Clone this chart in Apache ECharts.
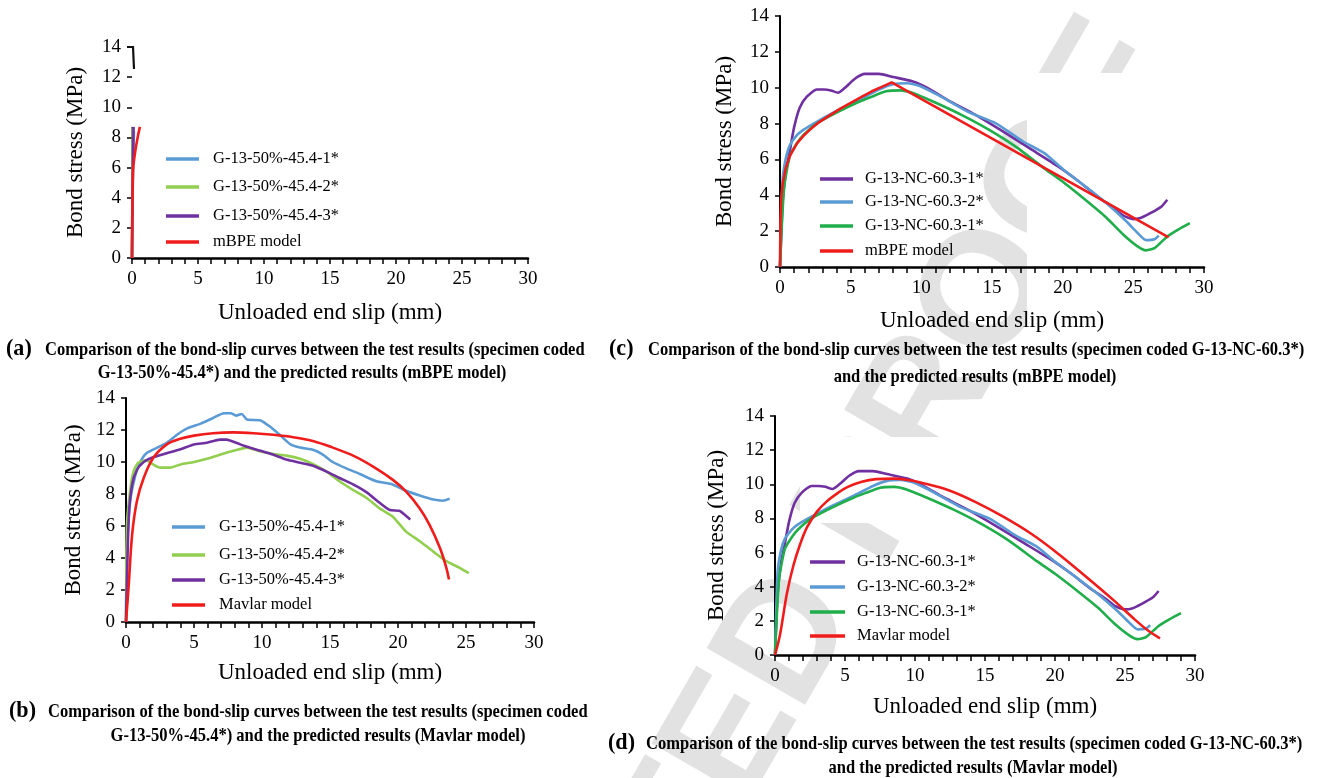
<!DOCTYPE html>
<html>
<head>
<meta charset="utf-8">
<script src="https://cdn.jsdelivr.net/npm/echarts/dist/echarts.min.js"></script>
<style>
  html, body { margin: 0; padding: 0; background: #fff; }
  #chart { width: 1319px; height: 778px; }
</style>
</head>
<body>
<div id="chart"></div>
<script>
// ---------- axis extents ----------
const slipMin = 0, slipMax = 30, slipStep = 1, slipLabelStep = 5;
const stressMin = 0, stressMax = 14, stressStep = 2;

// ---------- series names ----------
const namesA = ['G-13-50%-45.4-1*', 'G-13-50%-45.4-2*', 'G-13-50%-45.4-3*', 'mBPE model'];
const namesB = ['G-13-50%-45.4-1*', 'G-13-50%-45.4-2*', 'G-13-50%-45.4-3*', 'Mavlar model'];
const namesC = ['G-13-NC-60.3-1*', 'G-13-NC-60.3-2*', 'G-13-NC-60.3-1*', 'mBPE model'];
const namesD = ['G-13-NC-60.3-1*', 'G-13-NC-60.3-2*', 'G-13-NC-60.3-1*', 'Mavlar model'];

// ---------- (a) G-13-50%-45.4 vs mBPE (slip mm, stress MPa) ----------
const a_spec1 = [[0,0],[0.05,4.0],[0.1,7.0],[0.15,8.4]];
const a_spec2 = [[0,0],[0.04,5.5],[0.08,8.6]];
const a_spec3 = [[0,0],[0.06,6.0],[0.12,8.7]];
const a_mbpe  = [[0,0],[0.08,5.8],[0.25,7.1],[0.45,8.1],[0.6,8.7]];

// ---------- (b) G-13-50%-45.4 vs Mavlar ----------
const b_spec1 = [[0,0],[0.07,4.4],[0.3,7.5],[0.7,9.2],[1.05,10.0],[1.5,10.55],[2.3,10.9],[3.0,11.2],[3.75,11.7],[4.5,12.1],[5.5,12.4],[6.4,12.75],[7.2,13.05],[7.7,13.05],[8.1,12.9],[8.5,13.0],[8.9,12.65],[9.9,12.6],[10.6,12.2],[11.3,11.7],[12.1,11.1],[12.8,10.9],[13.8,10.75],[14.5,10.45],[15.2,10.0],[16.2,9.6],[17.2,9.25],[18.4,8.8],[19.6,8.6],[20.6,8.2],[21.6,7.9],[22.6,7.65],[23.3,7.58],[23.8,7.7]];
const b_spec2 = [[0,0],[0.07,6.1],[0.3,8.2],[0.55,9.4],[0.9,9.95],[1.5,10.1],[2.0,9.85],[2.5,9.65],[3.25,9.65],[4.0,9.85],[5.0,10.0],[5.95,10.2],[6.9,10.45],[7.9,10.7],[8.9,10.9],[9.9,10.65],[10.85,10.5],[11.8,10.4],[12.8,10.2],[13.8,9.85],[14.75,9.4],[15.7,8.8],[16.7,8.25],[17.7,7.75],[18.65,7.1],[19.6,6.6],[20.6,5.65],[21.6,5.05],[22.6,4.4],[23.55,3.8],[24.5,3.4],[25.2,3.05]];
const b_spec3 = [[0,0],[0.2,6.5],[0.45,8.6],[0.8,9.5],[1.3,10.0],[2.0,10.3],[3.0,10.55],[4.0,10.8],[5.0,11.1],[5.95,11.2],[6.9,11.4],[7.4,11.4],[8.1,11.2],[8.9,10.95],[9.9,10.7],[10.85,10.45],[11.8,10.15],[12.8,9.95],[13.8,9.75],[14.75,9.4],[15.7,9.0],[16.7,8.6],[17.7,8.1],[18.65,7.45],[19.4,7.0],[20.1,6.95],[20.5,6.7],[20.9,6.4]];
const b_mavlar = [[0,0],[0.2,2.3],[0.45,5.45],[0.8,7.55],[1.3,9.0],[2.0,10.25],[3.0,11.1],[4.0,11.45],[5.0,11.65],[6.4,11.8],[7.9,11.85],[9.4,11.8],[10.85,11.7],[12.3,11.55],[13.8,11.3],[15.2,10.9],[16.7,10.4],[18.2,9.7],[19.6,8.9],[20.6,8.15],[21.6,7.1],[22.3,6.1],[23.1,4.6],[23.55,3.4],[23.75,2.65]];

// ---------- (c)/(d) G-13-NC-60.3 test curves ----------
const nc_spec1 = [[0,0],[0.1,2.0],[0.2,3.75],[0.45,5.5],[0.7,6.5],[1.0,7.8],[1.4,8.9],[1.9,9.5],[2.6,9.9],[3.1,9.9],[3.6,9.85],[4.1,9.72],[4.6,10.0],[5.3,10.5],[6.0,10.77],[7.0,10.77],[8.0,10.6],[9.4,10.35],[10.4,10.0],[11.9,9.3],[13.8,8.5],[15.8,7.55],[17.7,6.6],[19.7,5.6],[21.1,4.8],[22.6,3.85],[23.6,3.3],[24.3,2.86],[25.0,2.67],[25.5,2.73],[26.2,3.0],[27.0,3.38],[27.4,3.75]];
const nc_spec2 = [[0,0],[0.1,3.0],[0.2,5.0],[0.45,6.2],[0.7,6.8],[1.2,7.35],[1.65,7.65],[2.6,8.1],[4.1,8.75],[5.55,9.3],[7.0,9.9],[8.0,10.2],[9.0,10.25],[9.9,10.1],[11.4,9.5],[13.3,8.65],[15.3,8.0],[17.2,7.0],[18.7,6.35],[20.1,5.4],[21.6,4.5],[23.1,3.55],[24.5,2.55],[25.3,1.9],[25.9,1.5],[26.5,1.55],[26.8,1.75]];
const nc_spec3 = [[0,0],[0.1,1.9],[0.3,4.5],[0.7,6.2],[1.2,6.9],[1.65,7.35],[2.6,8.0],[4.1,8.65],[5.55,9.2],[6.5,9.5],[7.5,9.8],[8.5,9.85],[9.4,9.7],[10.9,9.2],[12.8,8.5],[14.8,7.65],[16.7,6.7],[18.7,5.5],[20.1,4.7],[21.6,3.75],[23.1,2.75],[24.3,1.8],[25.3,1.15],[25.9,0.93],[26.5,1.05],[27.4,1.7],[28.2,2.1],[29.0,2.45]];
const c_mbpe = [[0,0],[0.03,2.5],[0.08,3.8],[0.2,4.7],[0.4,5.5],[0.7,6.2],[1.2,6.9],[1.7,7.35],[2.1,7.65],[2.8,8.1],[3.6,8.5],[4.3,8.85],[5.1,9.2],[5.8,9.5],[6.5,9.8],[7.2,10.05],[7.9,10.3],[27.5,1.65]];
const d_mavlar = [[0,0],[0.36,1.2],[0.85,3.6],[1.3,5.2],[1.8,6.5],[2.3,7.5],[3.0,8.4],[3.7,9.0],[4.5,9.5],[5.2,9.85],[6.2,10.15],[7.2,10.3],[8.5,10.33],[9.5,10.25],[10.4,10.1],[12.4,9.65],[14.3,8.97],[16.3,8.1],[18.3,7.1],[20.2,5.95],[22.2,4.6],[24.2,3.2],[25.6,2.15],[26.6,1.46],[27.5,0.97]];

// ---------- captions ----------
const capLine1AB = 'Comparison of the bond-slip curves between the test results (specimen coded';
const capLine1CD = 'Comparison of the bond-slip curves between the test results (specimen coded G-13-NC-60.3*)';
const capLine2 = {
  a: 'G-13-50%-45.4*) and the predicted results (mBPE model)',
  b: 'G-13-50%-45.4*) and the predicted results (Mavlar model)',
  c: 'and the predicted results (mBPE model)',
  d: 'and the predicted results (Mavlar model)'
};
const stampText = 'UNCORRECTED PROOF';

// ---------- styling ----------
const SERIF = '"Liberation Serif", "Times New Roman", serif';
const COL = {
  blue: '#5b9bd5', lime: '#92cf4f', purple: '#7030a0', red: '#f01c1c', green: '#1fae4a'
};

// panel layout: plot rectangles and label spacing
const panels = [
  { key: 'a', left: 132, top: 47,  width: 396, height: 211, xGap: 43, yGap: 45, hideY: true },
  { key: 'b', left: 126, top: 398, width: 408, height: 224, xGap: 39, yGap: 41 },
  { key: 'c', left: 780, top: 16,  width: 424, height: 251, xGap: 42, yGap: 44 },
  { key: 'd', left: 775, top: 416, width: 420, height: 239, xGap: 40, yGap: 47 }
];

const grids = panels.map(p => ({
  left: p.left, top: p.top, width: p.width, height: p.height,
  containLabel: false, outerBoundsMode: 'none'
}));

const xAxes = panels.map((p, i) => ({
  gridIndex: i, type: 'value', min: slipMin, max: slipMax, interval: slipStep,
  name: 'Unloaded end slip (mm)', nameLocation: 'middle', nameGap: p.xGap,
  nameTextStyle: { fontFamily: SERIF, fontSize: 23, color: '#000', verticalAlign: 'top' },
  axisLine: { show: true, onZero: false, lineStyle: { color: '#000', width: 2.5 } },
  axisTick: { show: true, length: 6, lineStyle: { color: '#000', width: 1.5 } },
  axisLabel: {
    fontFamily: SERIF, fontSize: 19, color: '#000', margin: 12,
    formatter: v => (v % slipLabelStep === 0 ? String(v) : '')
  },
  splitLine: { show: false }
}));

const yAxes = panels.map((p, i) => ({
  gridIndex: i, type: 'value', min: stressMin, max: stressMax, interval: stressStep,
  name: 'Bond stress (MPa)', nameLocation: 'middle', nameGap: p.yGap, nameRotate: 90,
  nameTextStyle: { fontFamily: SERIF, fontSize: 23, color: '#000' },
  axisLine: { show: !p.hideY, onZero: false, lineStyle: { color: '#000', width: 2 } },
  axisTick: { show: true, length: 5, lineStyle: { color: '#000', width: 1.5 } },
  axisLabel: { fontFamily: SERIF, fontSize: 19, color: '#000', margin: 11 },
  splitLine: { show: false }
}));

function curve(name, data, color, gi, smooth) {
  return {
    type: 'line', name, data, xAxisIndex: gi, yAxisIndex: gi,
    symbol: 'none', showSymbol: false, smooth: smooth, silent: true,
    lineStyle: { color, width: 2.6 }, itemStyle: { color },
    z: 3
  };
}

const series = [
  curve(namesA[0], a_spec1, COL.blue, 0, 0.2),
  curve(namesA[1], a_spec2, COL.lime, 0, 0.2),
  curve(namesA[2], a_spec3, COL.purple, 0, 0.2),
  curve(namesA[3], a_mbpe, COL.red, 0, 0.3),

  curve(namesB[0], b_spec1, COL.blue, 1, 0.2),
  curve(namesB[1], b_spec2, COL.lime, 1, 0.2),
  curve(namesB[2], b_spec3, COL.purple, 1, 0.2),
  curve(namesB[3], b_mavlar, COL.red, 1, 0.35),

  curve(namesC[0], nc_spec1, COL.purple, 2, 0.2),
  curve(namesC[1], nc_spec2, COL.blue, 2, 0.2),
  curve(namesC[2], nc_spec3, COL.green, 2, 0.2),
  curve(namesC[3], c_mbpe, COL.red, 2, false),

  curve(namesD[0], nc_spec1, COL.purple, 3, 0.2),
  curve(namesD[1], nc_spec2, COL.blue, 3, 0.2),
  curve(namesD[2], nc_spec3, COL.green, 3, 0.2),
  curve(namesD[3], d_mavlar, COL.red, 3, 0.35)
];

// ---------- keys drawn beside each plot ----------
const keyBoxes = [
  { names: namesA, colors: [COL.blue, COL.lime, COL.purple, COL.red], x1: 166, x2: 199, tx: 213, ys: [159, 187, 216, 242] },
  { names: namesB, colors: [COL.blue, COL.lime, COL.purple, COL.red], x1: 172, x2: 205, tx: 219, ys: [527, 555, 580, 605] },
  { names: namesC, colors: [COL.purple, COL.blue, COL.green, COL.red], x1: 820, x2: 853, tx: 865, ys: [179, 202, 226, 251] },
  { names: namesD, colors: [COL.purple, COL.blue, COL.green, COL.red], x1: 810, x2: 845, tx: 857, ys: [562, 587, 612, 636] }
];

const graphics = [];

// faint diagonal stamp, partly masked by the white plot patches
graphics.push({
  type: 'text', x: 657, y: 870, rotation: 60 * Math.PI / 180, z: -6, silent: true,
  style: {
    text: stampText, font: 'bold 165px "Liberation Sans", Arial, sans-serif',
    fill: '#e2e2e2', align: 'center', verticalAlign: 'middle',
    textAlign: 'center', textVerticalAlign: 'middle'
  }
});
graphics.push({
  type: 'rect', z: -5, silent: true,
  shape: { x: 1027, y: 73, width: 292, height: 268 },
  style: { fill: '#fff' }
});
graphics.push({
  type: 'rect', z: -5, silent: true,
  shape: { x: 800, y: 437, width: 519, height: 86 },
  style: { fill: '#fff' }
});

// broken pieces of the vertical axis in panel (a)
graphics.push({
  type: 'polyline', z: 4, silent: true,
  shape: { points: [[127, 47], [133, 47], [134, 69]] },
  style: { stroke: '#111', lineWidth: 2.2, fill: null }
});
graphics.push({
  type: 'line', z: 2, silent: true,
  shape: { x1: 132.5, y1: 127, x2: 132.5, y2: 170 },
  style: { stroke: '#2b3a2b', lineWidth: 2.2 }
});

keyBoxes.forEach(k => {
  k.names.forEach((n, j) => {
    graphics.push({
      type: 'line', z: 4, silent: true,
      shape: { x1: k.x1, y1: k.ys[j], x2: k.x2, y2: k.ys[j] },
      style: { stroke: k.colors[j], lineWidth: 3.5 }
    });
    graphics.push({
      type: 'text', x: k.tx, y: k.ys[j], z: 4, silent: true,
      style: {
        text: n, font: '16.5px ' + SERIF, fill: '#000',
        align: 'left', verticalAlign: 'middle', textAlign: 'left', textVerticalAlign: 'middle'
      }
    });
  });
});

// figure captions
function capText(text, x, y, align, size, sx) {
  return {
    type: 'text', x, y, scaleX: sx, z: 4, silent: true,
    style: {
      text, font: 'bold ' + size + 'px ' + SERIF, fill: '#000',
      align, verticalAlign: 'middle', textAlign: align, textVerticalAlign: 'middle'
    }
  };
}
const CAP = 19, CAPSX = 0.87, TAG = 24, TAGSX = 0.92;
graphics.push(capText('(a)', 6, 349, 'left', TAG, TAGSX));
graphics.push(capText(capLine1AB, 45, 350, 'left', CAP, CAPSX));
graphics.push(capText(capLine2.a, 302, 373, 'center', CAP, CAPSX));

graphics.push(capText('(b)', 9, 711, 'left', TAG, TAGSX));
graphics.push(capText(capLine1AB, 48, 712, 'left', CAP, CAPSX));
graphics.push(capText(capLine2.b, 318, 736, 'center', CAP, CAPSX));

graphics.push(capText('(c)', 609, 349, 'left', TAG, TAGSX));
graphics.push(capText(capLine1CD, 648, 350, 'left', CAP, CAPSX));
graphics.push(capText(capLine2.c, 975, 377, 'center', CAP, CAPSX));

graphics.push(capText('(d)', 608, 743, 'left', TAG, TAGSX));
graphics.push(capText(capLine1CD, 646, 744, 'left', CAP, CAPSX));
graphics.push(capText(capLine2.d, 973, 768, 'center', CAP, CAPSX));

const chart = echarts.init(document.getElementById('chart'), null, { renderer: 'canvas' });
chart.setOption({
  backgroundColor: '#fff',
  animation: false,
  grid: grids,
  xAxis: xAxes,
  yAxis: yAxes,
  series: series,
  graphic: { elements: graphics }
});
</script>
</body>
</html>
